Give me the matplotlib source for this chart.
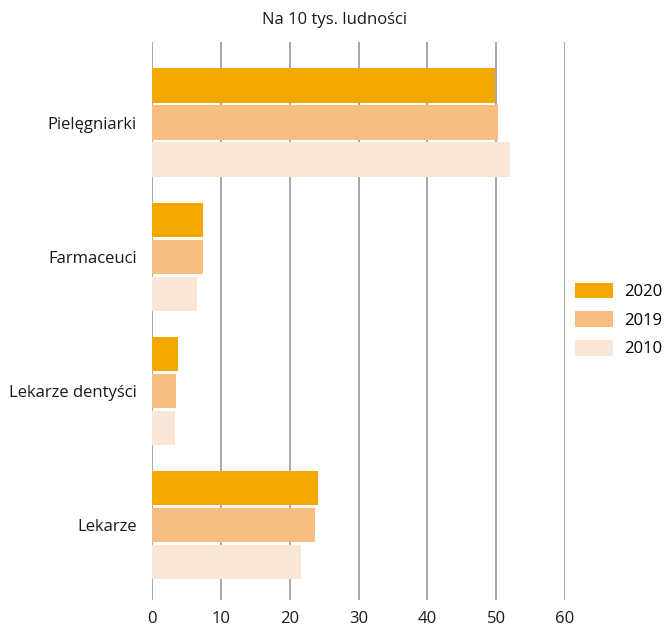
import numpy as np
import matplotlib
matplotlib.use("Agg")
import matplotlib.pyplot as plt

plt.rcParams['font.family'] = ['Open Sans', 'DejaVu Sans']

categories = ['Pielęgniarki', 'Farmaceuci', 'Lekarze dentyści', 'Lekarze']
years = ['2020', '2019', '2010']
values_2020 = [49.9, 7.4, 3.8, 24.1]
values_2019 = [50.2, 7.4, 3.5, 23.7]
values_2010 = [52.0, 6.5, 3.3, 21.7]
colors = ['#F3A800', '#F5BE7E', '#FAE6D7']

fig = plt.figure(figsize=(6.65, 6.3), dpi=100)
ax = fig.add_axes([0.2286, 0.0476, 0.621, 0.8857])

y = np.arange(len(categories))
pitch = 0.276
height = 0.254
for i, (vals, lab, c) in enumerate(zip([values_2020, values_2019, values_2010], years, colors)):
    ax.barh(y + (i - 1) * pitch, vals, height=height, color=c, label=lab, zorder=3)

ax.set_xlim(0, 60)
ax.set_ylim(3.56, -0.6)
ax.set_xticks(range(0, 61, 10))
ax.set_yticks(y)
ax.set_yticklabels(categories)
ax.tick_params(axis='both', length=0, labelsize=12, colors='#1a1a1a')
ax.tick_params(axis='x', pad=8)
ax.tick_params(axis='y', pad=11)
ax.grid(axis='x', color='#a0a0a0', linewidth=1.3, zorder=0)
ax.grid(axis='y', visible=False)
for s in ax.spines.values():
    s.set_visible(False)

fig.text(0.503, 0.968, 'Na 10 tys. ludności', ha='center', va='center', fontsize=12, color='#1a1a1a')

fig.legend(loc='center left', bbox_to_anchor=(0.864, 0.492), frameon=False,
           fontsize=12, handlelength=2.28, handleheight=1.08, labelspacing=0.66,
           handletextpad=0.72, borderpad=0, borderaxespad=0)

fig.savefig('out.png', dpi=100)
plt.close()
